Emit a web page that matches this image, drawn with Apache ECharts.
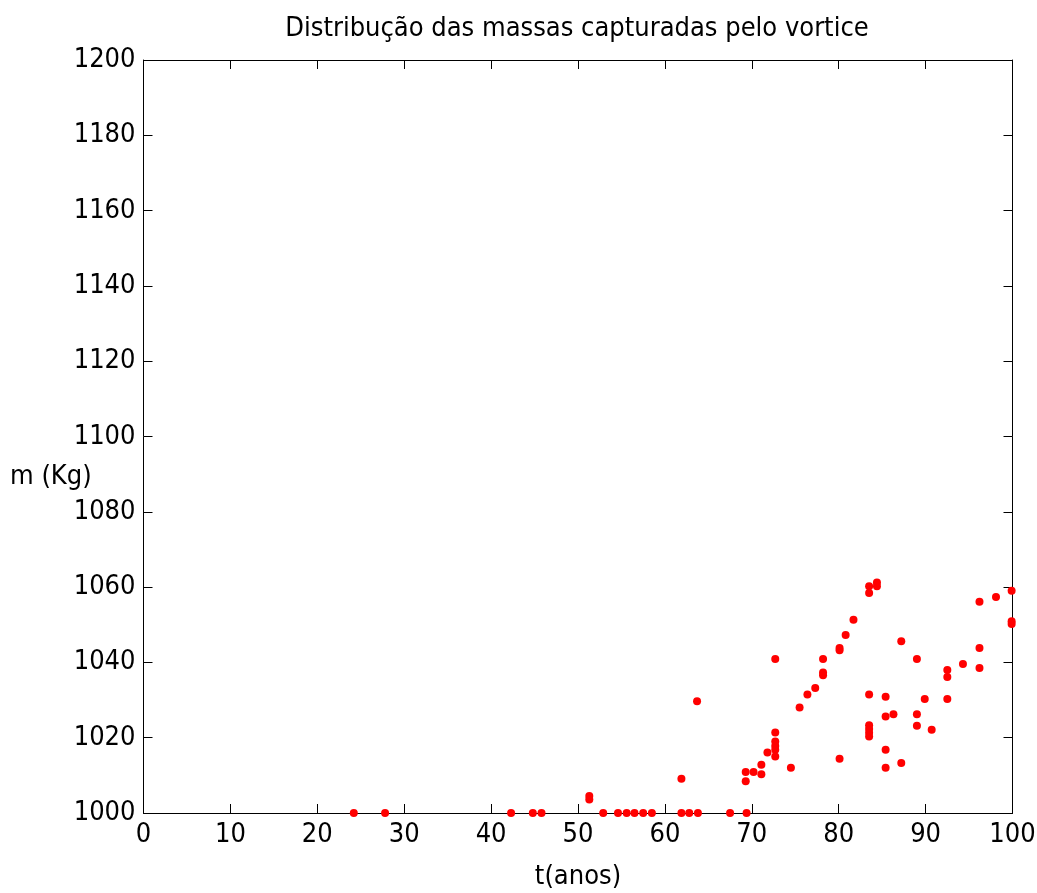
<!DOCTYPE html>
<html>
<head>
<meta charset="utf-8">
<script src="https://cdn.jsdelivr.net/npm/echarts@6/dist/echarts.min.js"></script>
<style>
html,body{margin:0;padding:0;background:#fff;}
#chart{width:1037px;height:893px;}
</style>
</head>
<body>
<div id="chart"></div>
<script>
var titleText = 'Distribução das massas capturadas pelo vortice';
var xName = 't(anos)';
var yName = 'm (Kg)';
var xTicks = [0,10,20,30,40,50,60,70,80,90,100];
var yTicks = [1000,1020,1040,1060,1080,1100,1120,1140,1160,1180,1200];

var tValues = [
  24.2, 27.8, 42.3, 44.8, 45.8, 51.3, 51.3, 52.9, 54.6, 55.6, 56.5, 57.5, 58.5,
  61.9, 61.9, 62.8, 63.8, 63.7, 67.5, 69.4, 69.3, 69.3, 70.2, 71.1, 71.1, 71.8,
  72.7, 72.7, 72.7, 72.7, 72.7, 72.7, 74.5, 75.5, 76.4, 77.3, 78.2, 78.2, 78.2,
  80.1, 80.1, 80.1, 80.8, 81.7, 83.5, 83.5, 84.4, 84.4, 83.5, 83.5, 83.5, 83.5, 83.5,
  85.4, 85.4, 86.3, 85.4, 85.4, 87.2, 87.2, 89.0, 89.0, 89.0, 89.9, 90.7,
  92.5, 92.5, 92.5, 94.3, 96.2, 96.2, 96.2, 98.1, 99.9, 99.9, 99.9
];
var mValues = [
  1000, 1000, 1000, 1000, 1000, 1004.5, 1003.6, 1000, 1000, 1000, 1000, 1000, 1000,
  1000, 1009.1, 1000, 1000, 1029.7, 1000, 1000, 1010.9, 1008.4, 1010.9, 1012.8, 1010.3, 1016.1,
  1040.9, 1021.4, 1019.0, 1017.8, 1016.8, 1015.0, 1012.0, 1028.0, 1031.5, 1033.2, 1040.9, 1037.3, 1036.6,
  1043.8, 1043.2, 1014.4, 1047.3, 1051.3, 1060.2, 1058.4, 1061.2, 1060.2, 1031.5, 1023.3, 1022.3, 1021.3, 1020.3,
  1030.9, 1025.6, 1026.2, 1016.8, 1012.0, 1045.6, 1013.3, 1040.9, 1026.2, 1023.2, 1030.3, 1022.1,
  1038.0, 1036.1, 1030.3, 1039.6, 1056.1, 1043.8, 1038.5, 1057.4, 1059.0, 1050.9, 1050.2
];

var points = tValues.map(function (t, i) { return [t, mValues[i]]; });

var FONT = '"Liberation Sans Narrow", "DejaVu Sans Condensed", "Liberation Sans", sans-serif';
var chart = echarts.init(document.getElementById('chart'), null, {renderer: 'canvas'});

function plain(v) { return String(v); }

function xAxisCommon(pos, showLabel) {
  return {
    type: 'value', position: pos, min: xTicks[0], max: xTicks[xTicks.length - 1], interval: 10,
    axisLine: {show: true, onZero: false, lineStyle: {color: '#000', width: 1}},
    axisTick: {show: true, inside: true, length: 9, lineStyle: {color: '#000'}},
    axisLabel: {show: showLabel, color: '#000', fontFamily: FONT, fontSize: 27, margin: 8, formatter: plain},
    splitLine: {show: false}
  };
}
function yAxisCommon(pos, showLabel) {
  return {
    type: 'value', position: pos, min: yTicks[0], max: yTicks[yTicks.length - 1], interval: 20,
    axisLine: {show: true, onZero: false, lineStyle: {color: '#000', width: 1}},
    axisTick: {show: true, inside: true, length: 9, lineStyle: {color: '#000'}},
    axisLabel: {show: showLabel, color: '#000', fontFamily: FONT, fontSize: 27, margin: 8, formatter: plain},
    splitLine: {show: false}
  };
}

var xb = xAxisCommon('bottom', true);
xb.name = xName;
xb.nameLocation = 'middle';
xb.nameGap = 50;
xb.nameTextStyle = {color: '#000', fontFamily: FONT, fontSize: 27};
var xt = xAxisCommon('top', false);
var yl = yAxisCommon('left', true);
var yr = yAxisCommon('right', false);

chart.setOption({
  animation: false,
  backgroundColor: '#fff',
  title: {
    text: titleText, left: 572, top: 10, textAlign: 'center',
    textStyle: {color: '#000', fontFamily: FONT, fontSize: 27, fontWeight: 'normal'}
  },
  grid: {left: 143.5, right: 24.5, top: 60, bottom: 80, containLabel: false, outerBoundsMode: 'none'},
  xAxis: [xb, xt],
  yAxis: [yl, yr],
  graphic: [{
    type: 'text', left: 10, top: 463,
    style: {text: yName, fill: '#000', font: '27px ' + FONT}
  }],
  series: [{
    type: 'scatter',
    xAxisIndex: 0, yAxisIndex: 0,
    data: points,
    symbol: 'circle',
    symbolSize: 8,
    itemStyle: {color: '#ff0000', opacity: 1},
    clip: false
  }]
});
</script>
</body>
</html>
